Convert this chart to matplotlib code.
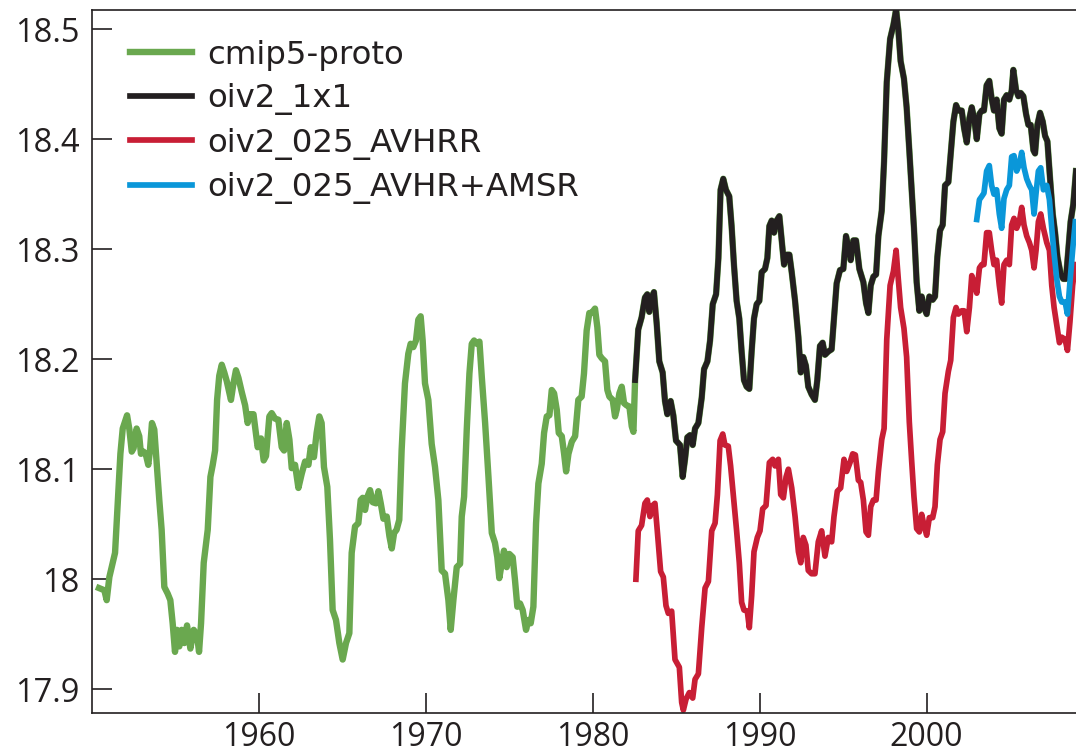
import numpy as np
import matplotlib.pyplot as plt
import matplotlib

matplotlib.rcParams['font.family'] = ['Open Sans', 'DejaVu Sans']

GREEN = "#6aa84f"
BLACK = "#231f20"
RED = "#c81e35"
BLUE = "#0a97d9"
AXIS = "#231f20"

# cmip5-proto, before the OI series starts (it follows oiv2_1x1 afterwards)
cmip_years = [
    1950.45, 1950.77, 1950.91, 1951.07, 1951.27, 1951.41, 1951.57, 1951.73, 1951.87, 1952.13,
    1952.27, 1952.41, 1952.52, 1952.70, 1952.86, 1952.96, 1953.12, 1953.26, 1953.40, 1953.50,
    1953.62, 1953.76, 1953.92, 1954.06, 1954.20, 1954.36, 1954.56, 1954.72, 1954.86, 1955.00,
    1955.12, 1955.26, 1955.40, 1955.56, 1955.72, 1955.92, 1956.12, 1956.32, 1956.44, 1956.56,
    1956.72, 1956.96, 1957.12, 1957.26, 1957.40, 1957.52, 1957.65, 1957.80, 1957.95, 1958.10,
    1958.25, 1958.35, 1958.50, 1958.65, 1958.80, 1959.00, 1959.20, 1959.35, 1959.50, 1959.70,
    1959.85, 1959.95, 1960.15, 1960.31, 1960.45, 1960.65, 1960.79, 1960.99, 1961.19, 1961.39,
    1961.53, 1961.69, 1961.85, 1961.99, 1962.19, 1962.39, 1962.59, 1962.79, 1962.99, 1963.13,
    1963.32, 1963.48, 1963.64, 1963.78, 1963.92, 1964.12, 1964.28, 1964.44, 1964.64, 1964.84,
    1965.04, 1965.24, 1965.44, 1965.58, 1965.78, 1965.98, 1966.12, 1966.24, 1966.38, 1966.52,
    1966.68, 1966.84, 1967.04, 1967.18, 1967.32, 1967.48, 1967.68, 1967.84, 1967.98, 1968.12,
    1968.27, 1968.43, 1968.57, 1968.77, 1968.97, 1969.11, 1969.27, 1969.43, 1969.57, 1969.71,
    1969.83, 1969.97, 1970.17, 1970.37, 1970.57, 1970.77, 1970.97, 1971.17, 1971.37, 1971.51,
    1971.67, 1971.87, 1972.07, 1972.17, 1972.31, 1972.47, 1972.63, 1972.77, 1972.91, 1973.07,
    1973.23, 1973.37, 1973.57, 1973.77, 1973.97, 1974.16, 1974.30, 1974.42, 1974.56, 1974.70,
    1974.86, 1975.02, 1975.22, 1975.36, 1975.50, 1975.66, 1975.82, 1976.02, 1976.16, 1976.30,
    1976.46, 1976.62, 1976.76, 1976.96, 1977.10, 1977.26, 1977.42, 1977.56, 1977.70, 1977.86,
    1977.98, 1978.16, 1978.30, 1978.42, 1978.56, 1978.76, 1978.96, 1979.15, 1979.35, 1979.49,
    1979.65, 1979.81, 1979.95, 1980.15, 1980.29, 1980.41, 1980.55, 1980.75, 1980.89, 1981.01,
    1981.21, 1981.35, 1981.45, 1981.61, 1981.75, 1981.89, 1982.05, 1982.21, 1982.35, 1982.45,
]
cmip_vals = [
    17.992, 17.990, 17.981, 18.002, 18.015, 18.024, 18.069, 18.114, 18.137, 18.149,
    18.136, 18.116, 18.119, 18.137, 18.130, 18.114, 18.116, 18.113, 18.104, 18.117,
    18.142, 18.136, 18.102, 18.072, 18.045, 17.993, 17.987, 17.981, 17.960, 17.934,
    17.954, 17.939, 17.954, 17.942, 17.958, 17.937, 17.954, 17.949, 17.934, 17.960,
    18.015, 18.045, 18.093, 18.104, 18.117, 18.163, 18.185, 18.195, 18.188, 18.180,
    18.170, 18.163, 18.178, 18.190, 18.183, 18.170, 18.158, 18.142, 18.150, 18.150,
    18.132, 18.120, 18.128, 18.108, 18.112, 18.148, 18.151, 18.146, 18.145, 18.120,
    18.117, 18.142, 18.127, 18.101, 18.104, 18.083, 18.096, 18.107, 18.104, 18.120,
    18.111, 18.133, 18.148, 18.142, 18.102, 18.084, 18.036, 17.972, 17.963, 17.942,
    17.927, 17.942, 17.951, 18.024, 18.048, 18.051, 18.072, 18.074, 18.063, 18.075,
    18.081, 18.070, 18.069, 18.080, 18.069, 18.055, 18.057, 18.039, 18.028, 18.042,
    18.045, 18.054, 18.117, 18.178, 18.205, 18.214, 18.211, 18.217, 18.236, 18.239,
    18.217, 18.178, 18.163, 18.123, 18.102, 18.072, 18.008, 18.005, 17.981, 17.954,
    17.981, 18.011, 18.014, 18.057, 18.075, 18.136, 18.187, 18.214, 18.217, 18.214,
    18.216, 18.184, 18.142, 18.093, 18.042, 18.033, 18.020, 18.001, 18.014, 18.026,
    18.011, 18.023, 18.020, 17.999, 17.975, 17.978, 17.972, 17.954, 17.963, 17.960,
    17.975, 18.051, 18.087, 18.105, 18.133, 18.148, 18.149, 18.172, 18.169, 18.154,
    18.133, 18.130, 18.114, 18.098, 18.114, 18.125, 18.130, 18.163, 18.166, 18.187,
    18.226, 18.242, 18.242, 18.246, 18.229, 18.204, 18.201, 18.198, 18.172, 18.166,
    18.163, 18.148, 18.154, 18.169, 18.175, 18.160, 18.158, 18.157, 18.139, 18.134,
]

oi1x1_years = [
    1982.55, 1982.74, 1982.94, 1983.14, 1983.28, 1983.40, 1983.54, 1983.68, 1983.84, 1984.00,
    1984.20, 1984.34, 1984.48, 1984.68, 1984.84, 1985.00, 1985.24, 1985.40, 1985.54, 1985.68,
    1985.84, 1986.00, 1986.14, 1986.34, 1986.54, 1986.68, 1986.88, 1987.04, 1987.20, 1987.40,
    1987.54, 1987.67, 1987.83, 1987.99, 1988.19, 1988.33, 1988.47, 1988.63, 1988.79, 1988.93,
    1989.07, 1989.23, 1989.39, 1989.53, 1989.67, 1989.83, 1989.99, 1990.13, 1990.33, 1990.47,
    1990.59, 1990.73, 1990.87, 1991.03, 1991.19, 1991.33, 1991.47, 1991.63, 1991.79, 1991.93,
    1992.13, 1992.33, 1992.47, 1992.62, 1992.78, 1992.92, 1993.12, 1993.32, 1993.46, 1993.62,
    1993.78, 1993.92, 1994.12, 1994.32, 1994.46, 1994.62, 1994.82, 1995.02, 1995.18, 1995.32,
    1995.46, 1995.62, 1995.78, 1995.98, 1996.22, 1996.38, 1996.52, 1996.66, 1996.82, 1996.98,
    1997.12, 1997.32, 1997.46, 1997.62, 1997.82, 1998.02, 1998.18, 1998.31, 1998.45, 1998.65,
    1998.81, 1998.97, 1999.11, 1999.25, 1999.41, 1999.57, 1999.71, 1999.85, 2000.01, 2000.17,
    2000.37, 2000.51, 2000.65, 2000.81, 2000.97, 2001.11, 2001.31, 2001.45, 2001.61, 2001.77,
    2001.91, 2002.11, 2002.25, 2002.41, 2002.57, 2002.71, 2002.85, 2003.01, 2003.17, 2003.31,
    2003.44, 2003.60, 2003.76, 2003.90, 2004.04, 2004.20, 2004.36, 2004.50, 2004.64, 2004.80,
    2004.96, 2005.10, 2005.20, 2005.36, 2005.50, 2005.64, 2005.80, 2005.96, 2006.10, 2006.24,
    2006.40, 2006.50, 2006.64, 2006.80, 2006.96, 2007.10, 2007.24, 2007.40, 2007.56, 2007.70,
    2007.84, 2008.04, 2008.19, 2008.35, 2008.49, 2008.63, 2008.79, 2008.95,
]
oi1x1_vals = [
    18.181, 18.227, 18.238, 18.256, 18.259, 18.243, 18.256, 18.261, 18.233, 18.198,
    18.188, 18.162, 18.150, 18.162, 18.149, 18.126, 18.122, 18.093, 18.109, 18.129,
    18.131, 18.122, 18.137, 18.142, 18.165, 18.191, 18.198, 18.217, 18.250, 18.259,
    18.292, 18.354, 18.364, 18.354, 18.348, 18.321, 18.286, 18.253, 18.237, 18.207,
    18.181, 18.175, 18.173, 18.207, 18.237, 18.250, 18.253, 18.279, 18.282, 18.292,
    18.321, 18.326, 18.315, 18.326, 18.330, 18.308, 18.286, 18.295, 18.295, 18.279,
    18.253, 18.220, 18.188, 18.202, 18.194, 18.175, 18.168, 18.163, 18.181, 18.212,
    18.215, 18.204, 18.207, 18.209, 18.237, 18.269, 18.281, 18.282, 18.312, 18.302,
    18.290, 18.308, 18.308, 18.282, 18.270, 18.251, 18.242, 18.267, 18.275, 18.277,
    18.312, 18.335, 18.380, 18.452, 18.491, 18.504, 18.518, 18.500, 18.471, 18.455,
    18.429, 18.390, 18.354, 18.319, 18.270, 18.244, 18.257, 18.247, 18.241, 18.257,
    18.254, 18.257, 18.293, 18.317, 18.322, 18.358, 18.361, 18.387, 18.416, 18.431,
    18.426, 18.426, 18.410, 18.397, 18.419, 18.429, 18.419, 18.400, 18.423, 18.426,
    18.426, 18.449, 18.453, 18.437, 18.426, 18.436, 18.410, 18.405, 18.436, 18.440,
    18.436, 18.444, 18.463, 18.445, 18.439, 18.442, 18.439, 18.423, 18.413, 18.413,
    18.390, 18.387, 18.413, 18.424, 18.416, 18.403, 18.398, 18.364, 18.332, 18.315,
    18.293, 18.277, 18.273, 18.273, 18.299, 18.325, 18.341, 18.371,
]

avhrr_years = [
    1982.60, 1982.74, 1982.94, 1983.14, 1983.28, 1983.44, 1983.60, 1983.74, 1983.88, 1984.08,
    1984.24, 1984.40, 1984.54, 1984.74, 1984.94, 1985.20, 1985.34, 1985.44, 1985.60, 1985.80,
    1986.00, 1986.14, 1986.34, 1986.54, 1986.74, 1986.94, 1987.14, 1987.34, 1987.48, 1987.64,
    1987.80, 1987.93, 1988.13, 1988.27, 1988.43, 1988.63, 1988.79, 1988.93, 1989.07, 1989.27,
    1989.39, 1989.53, 1989.67, 1989.87, 1990.03, 1990.19, 1990.39, 1990.59, 1990.79, 1990.93,
    1991.13, 1991.27, 1991.43, 1991.59, 1991.73, 1991.93, 1992.13, 1992.33, 1992.47, 1992.62,
    1992.78, 1992.92, 1993.12, 1993.32, 1993.52, 1993.72, 1993.92, 1994.12, 1994.32, 1994.46,
    1994.66, 1994.86, 1995.06, 1995.22, 1995.42, 1995.58, 1995.74, 1995.92, 1996.06, 1996.22,
    1996.38, 1996.52, 1996.66, 1996.82, 1996.98, 1997.12, 1997.32, 1997.46, 1997.62, 1997.82,
    1998.02, 1998.18, 1998.31, 1998.45, 1998.65, 1998.81, 1998.97, 1999.11, 1999.25, 1999.41,
    1999.57, 1999.71, 1999.85, 2000.01, 2000.17, 2000.37, 2000.51, 2000.65, 2000.81, 2000.97,
    2001.11, 2001.31, 2001.45, 2001.61, 2001.77, 2001.91, 2002.11, 2002.25, 2002.41, 2002.57,
    2002.71, 2002.85, 2003.01, 2003.17, 2003.31, 2003.44, 2003.60, 2003.76, 2003.90, 2004.04,
    2004.20, 2004.36, 2004.50, 2004.64, 2004.80, 2004.96, 2005.10, 2005.24, 2005.40, 2005.56,
    2005.70, 2005.84, 2006.00, 2006.16, 2006.30, 2006.44, 2006.56, 2006.70, 2006.84, 2007.00,
    2007.20, 2007.36, 2007.50, 2007.64, 2007.80, 2007.96, 2008.10, 2008.30, 2008.44, 2008.59,
    2008.75, 2008.91,
]
avhrr_vals = [
    18.000, 18.044, 18.049, 18.069, 18.072, 18.057, 18.067, 18.069, 18.044, 18.007,
    18.002, 17.976, 17.969, 17.971, 17.927, 17.920, 17.888, 17.881, 17.891, 17.897,
    17.892, 17.909, 17.914, 17.956, 17.992, 17.998, 18.044, 18.051, 18.077, 18.126,
    18.132, 18.122, 18.121, 18.103, 18.077, 18.044, 18.015, 17.979, 17.972, 17.971,
    17.956, 17.985, 18.025, 18.038, 18.044, 18.064, 18.067, 18.106, 18.109, 18.103,
    18.109, 18.077, 18.074, 18.093, 18.100, 18.083, 18.057, 18.025, 18.015, 18.038,
    18.031, 18.008, 18.005, 18.005, 18.034, 18.044, 18.021, 18.038, 18.034, 18.057,
    18.080, 18.083, 18.109, 18.098, 18.106, 18.114, 18.113, 18.090, 18.088, 18.072,
    18.043, 18.040, 18.066, 18.072, 18.072, 18.098, 18.127, 18.137, 18.218, 18.267,
    18.280, 18.299, 18.273, 18.247, 18.228, 18.202, 18.143, 18.108, 18.075, 18.046,
    18.043, 18.059, 18.049, 18.040, 18.056, 18.056, 18.066, 18.104, 18.127, 18.134,
    18.169, 18.189, 18.199, 18.238, 18.247, 18.241, 18.244, 18.244, 18.225, 18.247,
    18.276, 18.270, 18.260, 18.283, 18.286, 18.286, 18.315, 18.315, 18.299, 18.286,
    18.290, 18.267, 18.251, 18.286, 18.290, 18.286, 18.322, 18.328, 18.319, 18.325,
    18.338, 18.322, 18.312, 18.306, 18.299, 18.283, 18.299, 18.325, 18.332, 18.319,
    18.306, 18.299, 18.267, 18.247, 18.231, 18.215, 18.220, 18.218, 18.208, 18.234,
    18.267, 18.286,
]

amsr_years = [
    2003.01, 2003.17, 2003.31, 2003.44, 2003.60, 2003.76, 2003.90, 2004.04, 2004.20, 2004.36,
    2004.50, 2004.64, 2004.80, 2004.96, 2005.10, 2005.24, 2005.40, 2005.56, 2005.70, 2005.84,
    2006.00, 2006.16, 2006.30, 2006.44, 2006.56, 2006.70, 2006.84, 2007.00, 2007.20, 2007.36,
    2007.50, 2007.64, 2007.80, 2007.96, 2008.10, 2008.30, 2008.44, 2008.59, 2008.75, 2008.91,
]
amsr_vals = [
    18.327, 18.345, 18.348, 18.351, 18.371, 18.376, 18.358, 18.350, 18.354, 18.332,
    18.319, 18.346, 18.354, 18.358, 18.384, 18.385, 18.371, 18.377, 18.388, 18.374,
    18.364, 18.358, 18.354, 18.332, 18.351, 18.371, 18.374, 18.354, 18.358, 18.345,
    18.319, 18.296, 18.273, 18.257, 18.252, 18.252, 18.241, 18.270, 18.299, 18.325,
]

x_ticks = [1960, 1970, 1980, 1990, 2000]
y_ticks = [17.9, 18.0, 18.1, 18.2, 18.3, 18.4, 18.5]
y_tick_labels = ["17.9", "18", "18.1", "18.2", "18.3", "18.4", "18.5"]

W, H = 1076, 753
fig = plt.figure(figsize=(W / 100, H / 100), dpi=100)
fig.patch.set_facecolor('white')
ax = fig.add_axes([91.5 / W, 40.3 / H, 1002 / W, 702.7 / H])

# green continues underneath the 1x1 analysis
ax.plot(cmip_years + oi1x1_years, cmip_vals + oi1x1_vals, color=GREEN, lw=4.6,
        label="cmip5-proto", solid_joinstyle="round")
ax.plot(oi1x1_years, oi1x1_vals, color=BLACK, lw=4.1, label="oiv2_1x1",
        solid_joinstyle="round")
ax.plot(avhrr_years, avhrr_vals, color=RED, lw=4.1, label="oiv2_025_AVHRR",
        solid_joinstyle="round")
ax.plot(amsr_years, amsr_vals, color=BLUE, lw=4.1, label="oiv2_025_AVHR+AMSR",
        solid_joinstyle="round")

ax.set_xlim(1950, 2010)
ax.set_ylim(17.8787, 18.5174)
ax.set_xticks(x_ticks)
ax.set_xticklabels([str(t) for t in x_ticks])
ax.set_yticks(y_ticks)
ax.set_yticklabels(y_tick_labels)
ax.tick_params(direction='in', length=14.4, width=1.2, color=AXIS,
               labelsize=23.5, labelcolor=AXIS)
ax.tick_params(axis='y', pad=8.5)
ax.tick_params(axis='x', pad=6, labelsize=23)
for s in ax.spines.values():
    s.set_color(AXIS)
    s.set_linewidth(1.2)
ax.spines['right'].set_visible(False)

leg = ax.legend(loc="upper left", bbox_to_anchor=(0.0384, 0.958), frameon=False,
                prop={'family': 'DejaVu Sans', 'size': 23.3},
                handlelength=1.92, handletextpad=0.48,
                labelspacing=0.39, borderaxespad=0, borderpad=0)
for t in leg.get_texts():
    t.set_color(AXIS)

fig.savefig("out.png", dpi=100)
